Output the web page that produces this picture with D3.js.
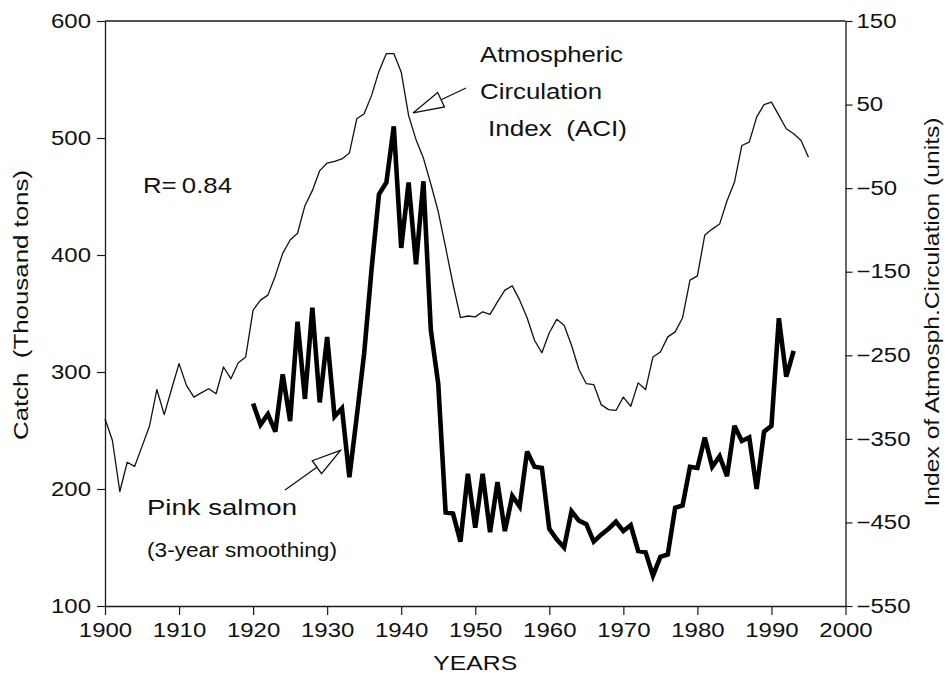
<!DOCTYPE html>
<html>
<head>
<meta charset="utf-8">
<script src="https://cdn.jsdelivr.net/npm/d3@7"></script>
<style>
  html, body { margin: 0; padding: 0; background: #fff; }
  svg { display: block; }
  text { font-family: "Liberation Sans", Arial, Helvetica, sans-serif; fill: #111; }
</style>
</head>
<body>
<svg id="chart" width="948" height="679"></svg>
<script>
// Atmospheric Circulation Index (ACI), right-hand scale, 1900-1995
const aciStartYear = 1900;
const aciValues = [
  -326, -352, -413, -378, -383, -359, -335, -291, -321, -290,
  -260, -286, -300, -295, -290, -296, -264, -278, -259, -252,
  -196, -184, -178, -155, -128, -112, -104,  -71,  -53,  -29,
   -20,  -18,  -15,   -8,   33,   39,   61,   90,  111,  111,
    89,   37,    8,  -14,  -45,  -78, -121, -165, -205, -203,
  -204, -198, -201, -186, -172, -167, -184, -205, -232, -247,
  -223, -207, -214, -238, -267, -284, -285, -309, -315, -316,
  -300, -311, -283, -291, -252, -246, -228, -222, -205, -160,
  -155, -106,  -99,  -93,  -65,  -43,    1,    5,   35,   50,
    53,   37,   21,   15,    7,  -13
];

// Pink salmon catch, thousand tons (3-year smoothing), left-hand scale, 1920-1993
const salmonStartYear = 1920;
const salmonValues = [
  273, 255, 264, 249, 298, 258, 343, 277, 355, 274,
  330, 262, 269, 210, 262, 316, 388, 452, 462, 510,
  406, 462, 392, 463, 336, 290, 180, 179, 155, 213,
  167, 213, 163, 206, 164, 194, 185, 232, 219, 218,
  166, 157, 150, 181, 173, 170, 155, 161, 166, 172,
  164, 169, 147, 146, 126, 142, 144, 184, 186, 219,
  218, 244, 219, 228, 211, 254, 241, 244, 200, 249,
  254, 346, 296, 318
];

// Axis ticks
const yearTicks  = [1900, 1910, 1920, 1930, 1940, 1950, 1960, 1970, 1980, 1990, 2000];
const catchTicks = [100, 200, 300, 400, 500, 600];
const aciTicks   = [150, 50, -50, -150, -250, -350, -450, -550];

const aciSeries = aciValues.map((v, i) => ({ year: aciStartYear + i, value: v }));
const salmonSeries = salmonValues.map((v, i) => ({ year: salmonStartYear + i, value: v }));

const svg = d3.select("#chart");

const plot = { left: 105, right: 845.5, top: 21, bottom: 606 };

const x  = d3.scaleLinear().domain([1900, 2000]).range([plot.left, plot.right]);
const yL = d3.scaleLinear().domain([100, 600]).range([plot.bottom, plot.top]);
const yR = d3.scaleLinear().domain([-550, 150]).range([plot.bottom, plot.top]);

// widen glyphs horizontally to the chart's broad lettering
function widen(sel, k) {
  sel.each(function () {
    const w = this.getComputedTextLength();
    this.setAttribute("textLength", (w * k).toFixed(1));
    this.setAttribute("lengthAdjust", "spacingAndGlyphs");
  });
}

const axisColor = "#1a1a1a";

// frame top edge
svg.append("line")
  .attr("x1", x(1900)).attr("x2", x(2000))
  .attr("y1", yL(600)).attr("y2", yL(600))
  .attr("stroke", axisColor).attr("stroke-width", 1.3);

// bottom axis
const gx = svg.append("g")
  .attr("transform", `translate(0,${plot.bottom})`)
  .call(d3.axisBottom(x).tickValues(yearTicks).tickFormat(d3.format("d"))
        .tickSize(9).tickSizeOuter(0).tickPadding(8));

// left axis
const gl = svg.append("g")
  .attr("transform", `translate(${plot.left},0)`)
  .call(d3.axisLeft(yL).tickValues(catchTicks).tickSize(8).tickSizeOuter(0).tickPadding(6));

// right axis
const gr = svg.append("g")
  .attr("transform", `translate(${plot.right},0)`)
  .call(d3.axisRight(yR).tickValues(aciTicks).tickSize(7).tickSizeOuter(0).tickPadding(4));

[gx, gl, gr].forEach(g => {
  g.select(".domain").attr("stroke", axisColor).attr("stroke-width", 1.3);
  g.selectAll(".tick line").attr("stroke", axisColor).attr("stroke-width", 1.2);
  g.selectAll(".tick text")
    .attr("font-size", 19.5)
    .attr("font-family", "'Liberation Sans', Arial, sans-serif")
    .attr("fill", "#111");
  widen(g.selectAll(".tick text"), 1.23);
});

// ACI thin line
const lineAci = d3.line().x(d => x(d.year)).y(d => yR(d.value));
svg.append("path")
  .datum(aciSeries)
  .attr("d", lineAci)
  .attr("fill", "none")
  .attr("stroke", "#111")
  .attr("stroke-width", 1.3)
  .attr("stroke-linejoin", "round");

// Pink salmon thick line
const lineSalmon = d3.line().x(d => x(d.year)).y(d => yL(d.value));
svg.append("path")
  .datum(salmonSeries)
  .attr("d", lineSalmon)
  .attr("fill", "none")
  .attr("stroke", "#000")
  .attr("stroke-width", 4.6)
  .attr("stroke-linejoin", "miter")
  .attr("stroke-miterlimit", 3);

// axis titles
svg.append("text")
  .attr("transform", `translate(28,305) rotate(-90)`)
  .attr("text-anchor", "middle")
  .attr("font-size", 21)
  .attr("textLength", 270).attr("lengthAdjust", "spacingAndGlyphs")
  .text("Catch\u00a0\u00a0(Thousand tons)");

svg.append("text")
  .attr("transform", `translate(938.5,312) rotate(-90)`)
  .attr("text-anchor", "middle")
  .attr("font-size", 20)
  .attr("textLength", 389).attr("lengthAdjust", "spacingAndGlyphs")
  .text("Index of Atmosph.Circulation (units)");

svg.append("text")
  .attr("x", (x(1900) + x(2000)) / 2)
  .attr("y", 670)
  .attr("text-anchor", "middle")
  .attr("font-size", 20)
  .attr("textLength", 84).attr("lengthAdjust", "spacingAndGlyphs")
  .text("YEARS");

// annotations
function label(txt, x0, y0, size, len) {
  svg.append("text")
    .attr("x", x0).attr("y", y0)
    .attr("font-size", size)
    .attr("textLength", len).attr("lengthAdjust", "spacingAndGlyphs")
    .text(txt);
}
label("Atmospheric", 480, 62, 22, 143);
label("Circulation", 480, 99, 22, 122);
label("Index\u00a0\u00a0(ACI)", 488, 136, 22, 139);
label("R=\u20090.84", 143, 193, 22, 89);
label("Pink salmon", 147, 515, 22, 150);
label("(3-year smoothing)", 147, 557, 20, 190);

// open-headed arrows pointing at the two curves
function arrow(tipX, tipY, tailX, tailY, headLen, headHalf) {
  const ang = Math.atan2(tailY - tipY, tailX - tipX);
  const bx = tipX + headLen * Math.cos(ang), by = tipY + headLen * Math.sin(ang);
  const px = -Math.sin(ang) * headHalf, py = Math.cos(ang) * headHalf;
  svg.append("line")
    .attr("x1", tailX).attr("y1", tailY).attr("x2", bx).attr("y2", by)
    .attr("stroke", "#111").attr("stroke-width", 1.3);
  svg.append("path")
    .attr("d", `M${tipX},${tipY}L${bx + px},${by + py}L${bx - px},${by - py}Z`)
    .attr("fill", "#fff").attr("stroke", "#111").attr("stroke-width", 1.3);
}
arrow(x(1941.6), yR(40), 466, 88, 31, 8);
arrow(x(1931.8), yL(233), 285, 490, 29, 8);
</script>
</body>
</html>
